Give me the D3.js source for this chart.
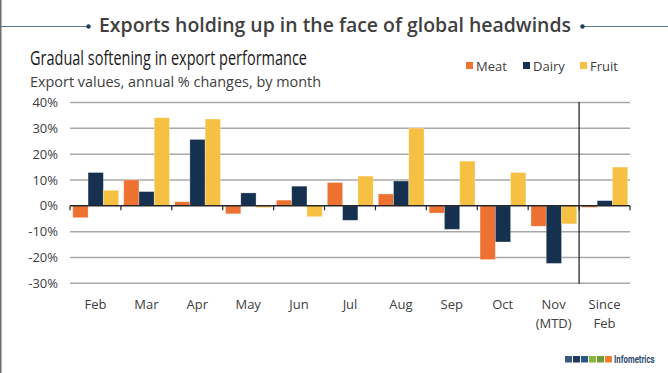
<!DOCTYPE html>
<html><head><meta charset="utf-8">
<script src="https://cdn.jsdelivr.net/npm/d3@7"></script>
<style>
html,body{margin:0;padding:0;background:#fff;}
svg{display:block;font-family:"Open Sans","Noto Sans",sans-serif;}
</style></head>
<body><svg id="c" width="668" height="373"></svg>
<script>
const categories = ["Feb","Mar","Apr","May","Jun","Jul","Aug","Sep","Oct","Nov\n(MTD)","Since\nFeb"];
const seriesNames = ["Meat","Dairy","Fruit"];
const meat  = [-4.6, 10.0, 1.6, -3.1, 2.2, 9.0, 4.6, -2.8, -20.8, -7.9, -0.6];
const dairy = [12.9, 5.5, 25.7, 5.0, 7.6, -5.6, 9.6, -9.1, -14.0, -22.3, 2.0];
const fruit = [6.0, 34.1, 33.6, -0.7, -4.2, 11.5, 30.1, 17.3, 12.9, -7.0, 15.0];
const yTicks = [40, 30, 20, 10, 0, -10, -20, -30];
const colors = ["#ED7231", "#15314F", "#F6C143"];
const logoColors = ["#3e5a7a","#1f3a60","#2e5488","#8ab53b","#6f9a35","#f08030"];

const svg = d3.select("#c");
// left border
svg.append("line").attr("x1",0.75).attr("x2",0.75).attr("y1",0).attr("y2",373).attr("stroke","#6b6b6b").attr("stroke-width",1.5);

// title
svg.append("text").attr("x",335).attr("y",32).attr("text-anchor","middle")
  .attr("font-family","'Open Sans',sans-serif").attr("font-weight",600).attr("font-size",19.5)
  .attr("fill","#404040").attr("textLength",472).attr("lengthAdjust","spacingAndGlyphs")
  .text("Exports holding up in the face of global headwinds");
svg.append("line").attr("x1",0).attr("x2",88).attr("y1",26.5).attr("y2",26.5).attr("stroke","#5d7888").attr("stroke-width",1);
svg.append("line").attr("x1",584).attr("x2",668).attr("y1",26.5).attr("y2",26.5).attr("stroke","#5d7888").attr("stroke-width",1);
svg.append("circle").attr("cx",88.5).attr("cy",26.5).attr("r",2.2).attr("fill","#1f3f5a");
svg.append("circle").attr("cx",582.5).attr("cy",26.5).attr("r",2.2).attr("fill","#1f3f5a");

svg.append("text").attr("x",30).attr("y",65).attr("font-size",19.5).attr("fill","#1a1a1a")
  .attr("textLength",277).attr("lengthAdjust","spacingAndGlyphs")
  .text("Gradual softening in export performance");
svg.append("text").attr("x",30).attr("y",86.5).attr("font-size",14).attr("fill","#404040")
  .attr("textLength",291).attr("lengthAdjust","spacingAndGlyphs")
  .text("Export values, annual % changes, by month");

// legend
const legX = [466, 523, 580];
seriesNames.forEach((n,i)=>{
  svg.append("rect").attr("x",legX[i]).attr("y",62).attr("width",7).attr("height",7).attr("fill",colors[i]);
  svg.append("text").attr("x",legX[i]+10).attr("y",70.5).attr("font-size",13).attr("fill","#404040").text(n);
});

// scales
const x0 = d3.scaleBand().domain(categories).range([70,630]).paddingInner(0).paddingOuter(0);
const x1 = d3.scaleBand().domain(seriesNames).range([2.8, x0.bandwidth()-2.3]).padding(0);
const y = d3.scaleLinear().domain([-30,40]).range([283.3,102.5]);

// gridlines
svg.append("g").selectAll("line").data(yTicks.filter(d=>d!==0)).join("line")
  .attr("x1",70).attr("x2",630).attr("y1",d=>y(d)).attr("y2",d=>y(d))
  .attr("stroke","#a8a8a8").attr("stroke-width",1.5);

// y axis labels
const yAxis = d3.axisLeft(y).tickValues(yTicks).tickSize(0).tickPadding(0).tickFormat(d=>d+"%");
const ya = svg.append("g").attr("transform","translate(58,0)").call(yAxis);
ya.select(".domain").remove();
ya.selectAll("text").attr("font-size",13).attr("fill","#404040").attr("font-family","'Open Sans',sans-serif");

// bars
const series = [meat, dairy, fruit];
const data = [];
categories.forEach((c,ci)=>seriesNames.forEach((s,si)=>data.push({c,s,si,v:series[si][ci]})));
svg.append("g").selectAll("rect").data(data).join("rect")
  .attr("x",d=>x0(d.c)+x1(d.s))
  .attr("width",x1.bandwidth())
  .attr("y",d=>y(Math.max(0,d.v)))
  .attr("height",d=>Math.abs(y(d.v)-y(0)))
  .attr("fill",d=>colors[d.si])
  .attr("stroke","#ffffff").attr("stroke-opacity",0.35).attr("stroke-width",0.8);

// zero axis with ticks at category boundaries
const bounds = categories.map(c=>x0(c)).concat([630]);
svg.append("line").attr("x1",70).attr("x2",630).attr("y1",y(0)).attr("y2",y(0)).attr("stroke","#262626").attr("stroke-width",1.5);
svg.append("g").selectAll("line").data(bounds).join("line")
  .attr("x1",d=>d).attr("x2",d=>d).attr("y1",y(0)).attr("y2",y(0)+4.5)
  .attr("stroke","#262626").attr("stroke-width",1.2);

// separator line
svg.append("line").attr("x1",x0(categories[10])).attr("x2",x0(categories[10]))
  .attr("y1",y(40)-0.5).attr("y2",y(-30)+0.5).attr("stroke","#1a1a1a").attr("stroke-width",1.2);

// x labels
const xl = svg.append("g").selectAll("text").data(categories).join("text")
  .attr("x",d=>x0(d)+x0.bandwidth()/2).attr("y",309).attr("text-anchor","middle")
  .attr("font-size",13).attr("fill","#404040");
xl.each(function(d){
  const parts = d.split("\n");
  const t = d3.select(this);
  parts.forEach((p,i)=>t.append("tspan").attr("x",+t.attr("x")).attr("dy",i===0?0:18.5).text(p));
});

// logo
logoColors.forEach((c,i)=>{
  svg.append("rect").attr("x",565+i*8).attr("y",356).attr("width",7).attr("height",6.5).attr("fill",c);
});
svg.append("text").attr("transform","translate(614,363) scale(0.68,1)")
  .attr("font-family","'Roboto',sans-serif")
  .attr("font-weight",700).attr("font-size",11.5).attr("fill","#2b4a6e")
  .text("Infometrics");
</script></body></html>
